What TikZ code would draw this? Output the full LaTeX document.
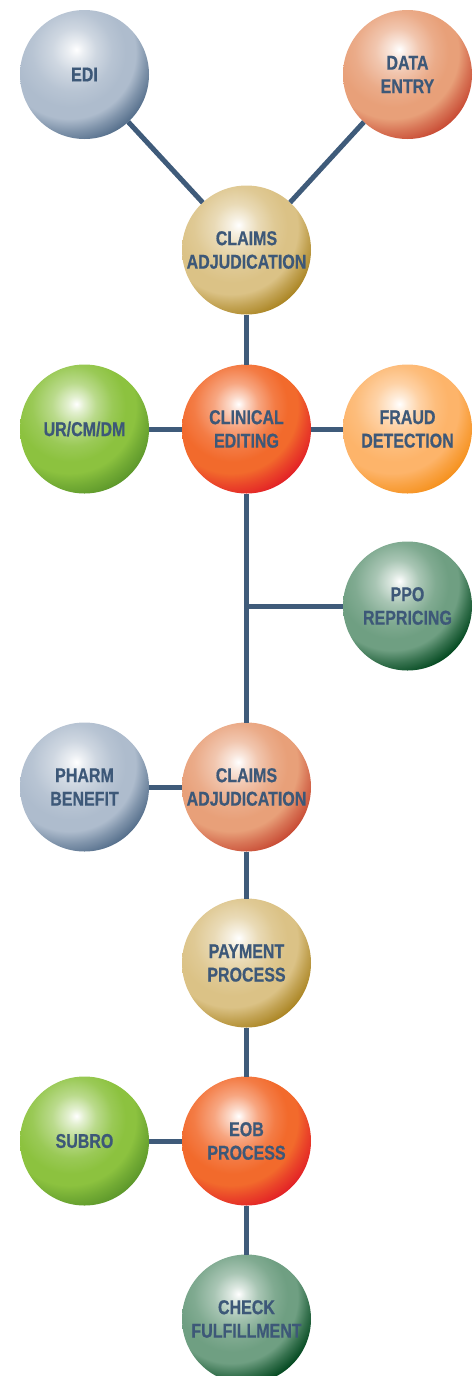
\documentclass[tikz,border=0pt]{standalone}
\usepackage{fontspec}
\newfontfamily\spherefont{Liberation Sans}[FakeStretch=0.8, BoldFeatures={FakeBold=0.6}]
\usepackage{tikz}
\usetikzlibrary{positioning}

\definecolor{labelblue}{HTML}{3D5878}
\definecolor{linkblue}{HTML}{3F5B7A}
\definecolor{steelmid}{HTML}{AEBCCD}\definecolor{steeldark}{HTML}{526C89}
\definecolor{salmonmid}{HTML}{E8A079}\definecolor{salmondark}{HTML}{C74832}
\definecolor{tanmid}{HTML}{DBC286}\definecolor{tandark}{HTML}{A98320}
\definecolor{limemid}{HTML}{8CC23F}\definecolor{limedark}{HTML}{5B962A}
\definecolor{redmid}{HTML}{F26A2C}\definecolor{reddark}{HTML}{E21F26}
\definecolor{orangemid}{HTML}{FDB46A}\definecolor{orangedark}{HTML}{F5901B}
\definecolor{pinemid}{HTML}{6F9F82}\definecolor{pinedark}{HTML}{00461D}

% outer circle centred up left of the ball, highlight a little right of it
\newcommand\defsphere[3]{%
  \pgfdeclareradialshading{#1}{\pgfpoint{12bp}{5bp}}{%
    color(0bp)=(white); color(8bp)=(#2!25!white); color(22bp)=(#2!60!white);
    color(40bp)=(#2!88!white); color(55bp)=(#2); color(66bp)=(#2);
    color(78bp)=(#2!50!#3); color(92bp)=(#3); color(110bp)=(#3)}}
\defsphere{steel}{steelmid}{steeldark}
\defsphere{salmon}{salmonmid}{salmondark}
\defsphere{tan}{tanmid}{tandark}
\defsphere{lime}{limemid}{limedark}
\defsphere{redorange}{redmid}{reddark}
\defsphere{orange}{orangemid}{orangedark}
\defsphere{pine}{pinemid}{pinedark}

\tikzset{
  sphere/.style={circle, minimum size=129pt, inner sep=0pt, outer sep=0pt,
    align=center, text=labelblue,
    font=\spherefont\bfseries\fontsize{20}{23.5}\selectfont,
    path picture={\node[anchor=center, inner sep=0pt, outer sep=0pt]
      at ([shift={(-20pt,20pt)}]path picture bounding box.center) {\pgfuseshading{#1}};}},
  link/.style={draw=linkblue, line width=5pt},
}

\begin{document}
\begin{tikzpicture}[x=1pt, y=1pt]
  \useasboundingbox (0,0) rectangle (475,-1376);
  \node [sphere=tan] (adj) at (246.5,-250) {CLAIMS\\ADJUDICATION};
  \node [sphere=steel] (edi) at (84.5,-74.5) {EDI};
  \node [sphere=salmon] (entry) at (407.5,-74.5) {DATA\\ENTRY};
  \node [sphere=redorange, below=50pt of adj] (clin) {CLINICAL\\EDITING};
  \node [sphere=lime, left=33pt of clin] (ur) {UR/CM/DM};
  \node [sphere=orange, right=32pt of clin] (fraud) {FRAUD\\DETECTION};
  \node [sphere=pine, below=48pt of fraud] (ppo) {PPO\\REPRICING};
  \node [sphere=salmon, below=229pt of clin] (adj2) {CLAIMS\\ADJUDICATION};
  \node [sphere=steel, left=33pt of adj2] (pharm) {PHARM\\BENEFIT};
  \node [sphere=tan, below=47pt of adj2] (pay) {PAYMENT\\PROCESS};
  \node [sphere=redorange, below=49pt of pay] (eob) {EOB\\PROCESS};
  \node [sphere=lime, left=33pt of eob] (subro) {SUBRO};
  \node [sphere=pine, below=49pt of eob] (check) {CHECK\\FULFILLMENT};
  \coordinate (fork) at (clin |- ppo);

  \draw [link] (edi) -- (adj);
  \draw [link] (entry) -- (adj);
  \draw [link] (adj) -- (clin);
  \draw [link] (ur) -- (clin);
  \draw [link] (clin) -- (fraud);
  \draw [link] (clin) -- (adj2);
  \draw [link] (fork) -- (ppo);
  \draw [link] (pharm) -- (adj2);
  \draw [link] (adj2) -- (pay);
  \draw [link] (pay) -- (eob);
  \draw [link] (subro) -- (eob);
  \draw [link] (eob) -- (check);
\end{tikzpicture}
\end{document}
